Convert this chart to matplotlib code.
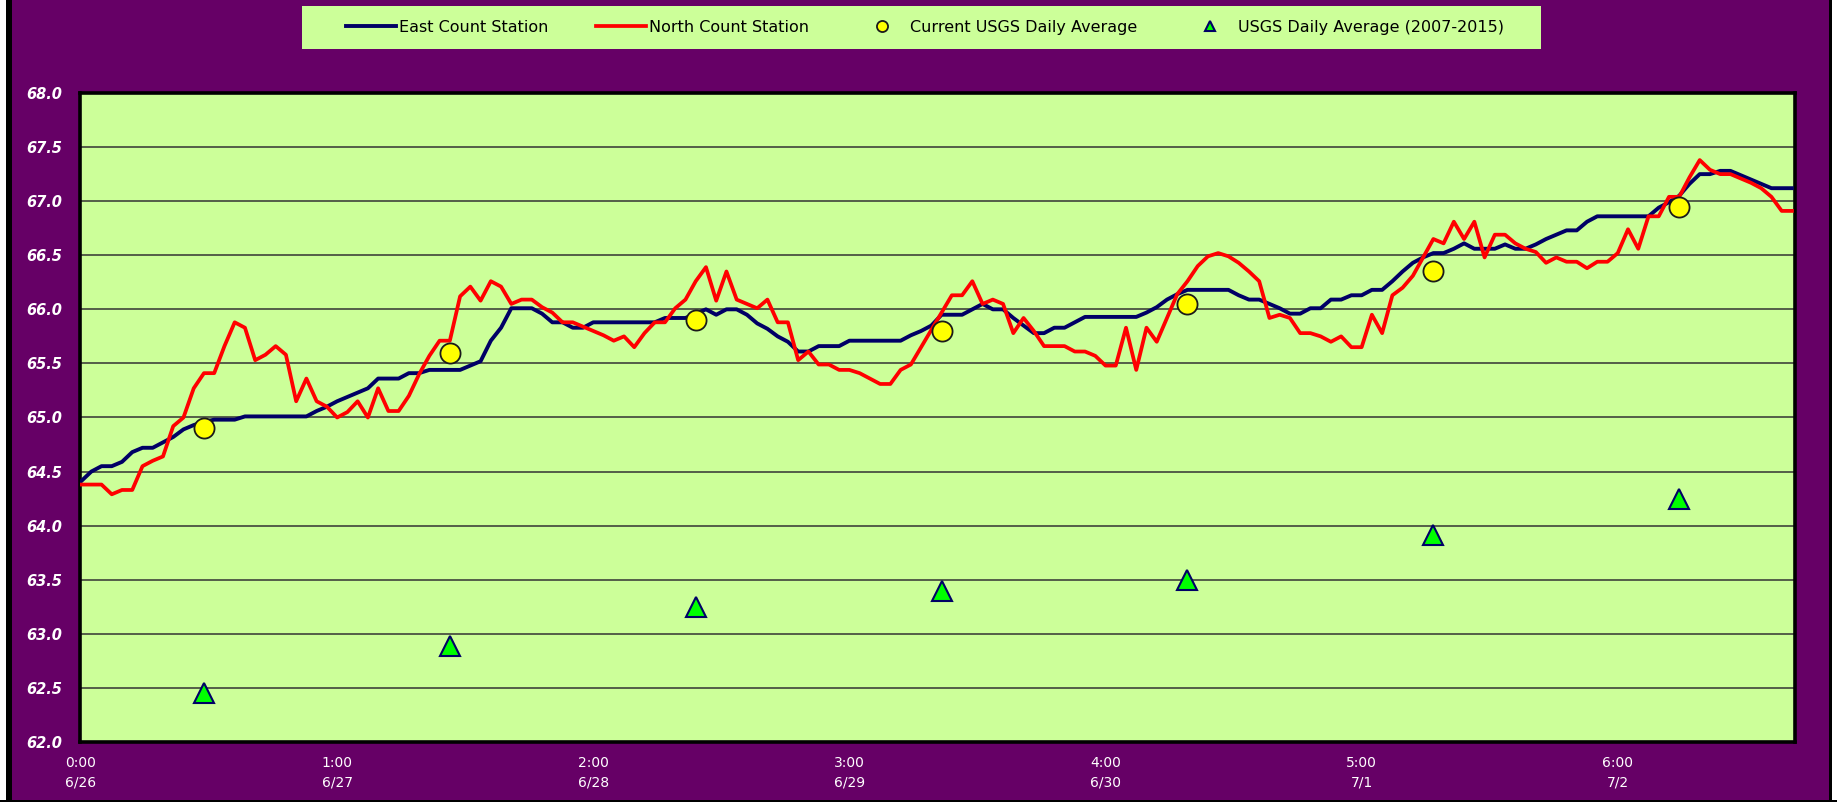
import matplotlib
matplotlib.use("Agg")
import matplotlib.pyplot as plt
from matplotlib.patches import Rectangle

# ---------------- data ----------------
east_count = [
    64.41, 64.50, 64.55, 64.55, 64.59, 64.68, 64.72, 64.72, 64.77, 64.82,
    64.89, 64.93, 64.96, 64.98, 64.98, 64.98, 65.01, 65.01, 65.01, 65.01,
    65.01, 65.01, 65.01, 65.06, 65.10, 65.15, 65.19, 65.23, 65.27, 65.36,
    65.36, 65.36, 65.41, 65.41, 65.44, 65.44, 65.44, 65.44, 65.48, 65.52,
    65.71, 65.83, 66.01, 66.01, 66.01, 65.96, 65.88, 65.88, 65.83, 65.83,
    65.88, 65.88, 65.88, 65.88, 65.88, 65.88, 65.88, 65.92, 65.92, 65.92,
    65.96, 66.00, 65.95, 66.00, 66.00, 65.95, 65.87, 65.82, 65.75, 65.70,
    65.61, 65.61, 65.66, 65.66, 65.66, 65.71, 65.71, 65.71, 65.71, 65.71,
    65.71, 65.76, 65.80, 65.85, 65.95, 65.95, 65.95, 66.00, 66.05, 66.00,
    66.00, 65.92, 65.85, 65.78, 65.78, 65.83, 65.83, 65.88, 65.93, 65.93,
    65.93, 65.93, 65.93, 65.93, 65.97, 66.02, 66.09, 66.14, 66.18, 66.18,
    66.18, 66.18, 66.18, 66.13, 66.09, 66.09, 66.05, 66.01, 65.96, 65.96,
    66.01, 66.01, 66.09, 66.09, 66.13, 66.13, 66.18, 66.18, 66.26, 66.35,
    66.43, 66.48, 66.52, 66.52, 66.56, 66.61, 66.56, 66.56, 66.56, 66.60,
    66.56, 66.56, 66.60, 66.65, 66.69, 66.73, 66.73, 66.81, 66.86, 66.86,
    66.86, 66.86, 66.86, 66.86, 66.94, 66.99, 67.05, 67.16, 67.25, 67.25,
    67.28, 67.28, 67.24, 67.20, 67.16, 67.12, 67.12, 67.12,
]

north_count = [
    64.38, 64.38, 64.38, 64.29, 64.33, 64.33, 64.55, 64.60, 64.64, 64.92,
    65.00, 65.27, 65.41, 65.41, 65.66, 65.88, 65.83, 65.53, 65.58, 65.66,
    65.58, 65.15, 65.36, 65.15, 65.10, 65.00, 65.05, 65.15, 65.00, 65.27,
    65.06, 65.06, 65.20, 65.40, 65.57, 65.71, 65.71, 66.12, 66.21, 66.08,
    66.26, 66.21, 66.05, 66.09, 66.09, 66.02, 65.97, 65.88, 65.88, 65.84,
    65.80, 65.76, 65.71, 65.75, 65.65, 65.78, 65.88, 65.88, 66.01, 66.09,
    66.26, 66.39, 66.08, 66.35, 66.09, 66.05, 66.01, 66.09, 65.88, 65.88,
    65.53, 65.61, 65.49, 65.49, 65.44, 65.44, 65.41, 65.36, 65.31, 65.31,
    65.44, 65.49, 65.65, 65.81, 65.97, 66.13, 66.13, 66.26, 66.05, 66.09,
    66.05, 65.78, 65.92, 65.80, 65.66, 65.66, 65.66, 65.61, 65.61, 65.57,
    65.48, 65.48, 65.83, 65.44, 65.83, 65.70, 65.92, 66.14, 66.26, 66.40,
    66.49, 66.52, 66.49, 66.43, 66.35, 66.26, 65.92, 65.95, 65.92, 65.78,
    65.78, 65.75, 65.70, 65.75, 65.65, 65.65, 65.95, 65.78, 66.13, 66.20,
    66.31, 66.48, 66.65, 66.61, 66.81, 66.65, 66.81, 66.48, 66.69, 66.69,
    66.61, 66.56, 66.53, 66.43, 66.48, 66.44, 66.44, 66.38, 66.44, 66.44,
    66.52, 66.74, 66.56, 66.86, 66.86, 67.04, 67.04, 67.22, 67.38, 67.29,
    67.25, 67.25, 67.21, 67.17, 67.12, 67.04, 66.91, 66.91,
]

# daily values plotted at noon of each day (hour index)
daily_index = [12, 36, 60, 84, 108, 132, 156]
usgs_current = [64.90, 65.60, 65.90, 65.80, 66.05, 66.35, 66.95]
usgs_hist = [62.45, 62.89, 63.25, 63.40, 63.50, 63.91, 64.25]

tick_index = [0, 25, 50, 75, 100, 125, 150]
tick_labels = ["0:00\n6/26", "1:00\n6/27", "2:00\n6/28", "3:00\n6/29",
               "4:00\n6/30", "5:00\n7/1", "6:00\n7/2"]
y_ticks = [62.0, 62.5, 63.0, 63.5, 64.0, 64.5, 65.0, 65.5, 66.0, 66.5,
           67.0, 67.5, 68.0]

series_labels = ["East Count Station", "North Count Station",
                 "Current USGS Daily Average", "USGS Daily Average (2007-2015)"]

# ---------------- styling ----------------
PURPLE = "#660066"
PLOT_BG = "#CCFF99"
NAVY = "#000066"
RED = "#FF0000"

W, H = 1837, 802
fig = plt.figure(figsize=(W / 100, H / 100), dpi=100, facecolor=PURPLE)

def px_rect(x0, y0, x1, y1, color, z=0):
    fig.patches.append(Rectangle((x0 / W, 1 - y1 / H), (x1 - x0) / W, (y1 - y0) / H,
                                 transform=fig.transFigure, facecolor=color,
                                 edgecolor="none", zorder=z))

# outer border decoration
px_rect(0, 0, 6, H, "white")
px_rect(6, 0, 12, H, "black")
px_rect(1829, 0, 1832, H, "black")
px_rect(1832, 0, W, H, "white")
px_rect(0, 800, W, H, "black")

# legend panel
px_rect(302, 6, 1541, 49, PLOT_BG)

ax = fig.add_axes([80 / W, 1 - 742 / H, (1795 - 80) / W, (742 - 93) / H])
ax.set_facecolor(PLOT_BG)

x_hours = list(range(len(east_count)))
ax.plot(x_hours, east_count, color=NAVY, lw=2.8, zorder=3,
        solid_joinstyle="round", label=series_labels[0])
ax.plot(x_hours, north_count, color=RED, lw=2.7, zorder=4,
        solid_joinstyle="round", label=series_labels[1])
ax.plot(daily_index, usgs_current, linestyle="none", marker="o", markersize=14.5,
        markerfacecolor="#FFFF00", markeredgecolor="#1a1a1a", markeredgewidth=1.3,
        zorder=5, label=series_labels[2])
ax.plot(daily_index, usgs_hist, linestyle="none", marker="^", markersize=14,
        markerfacecolor="#00FF00", markeredgecolor=NAVY, markeredgewidth=1.5,
        zorder=5, label=series_labels[3])

ax.set_xlim(-0.1, 167.3)
ax.set_ylim(62.0, 68.0)
ax.set_yticks(y_ticks)
ax.set_yticklabels([f"{v:.1f}" for v in y_ticks], color="white",
                   fontsize=10.5, fontweight="bold", fontstyle="italic")
ax.set_xticks(tick_index)
ax.set_xticklabels(tick_labels, color="white", fontsize=10, linespacing=1.5)
ax.tick_params(axis="y", length=0, pad=13)
ax.tick_params(axis="x", length=0, pad=10)

ax.grid(axis="y", color="#333333", lw=1.1, zorder=1)
ax.set_axisbelow(True)
for s in ax.spines.values():
    s.set_color("black")
    s.set_linewidth(2.6)

handles, labels = ax.get_legend_handles_labels()
leg = fig.legend(handles, labels, loc="center", bbox_to_anchor=(925 / W, 1 - 27.5 / H),
                 ncol=4, frameon=False, fontsize=11.5, handlelength=3.1,
                 handletextpad=0.2, columnspacing=3.0, markerscale=0.55)

fig.savefig("out.png", dpi=100, facecolor=PURPLE)
